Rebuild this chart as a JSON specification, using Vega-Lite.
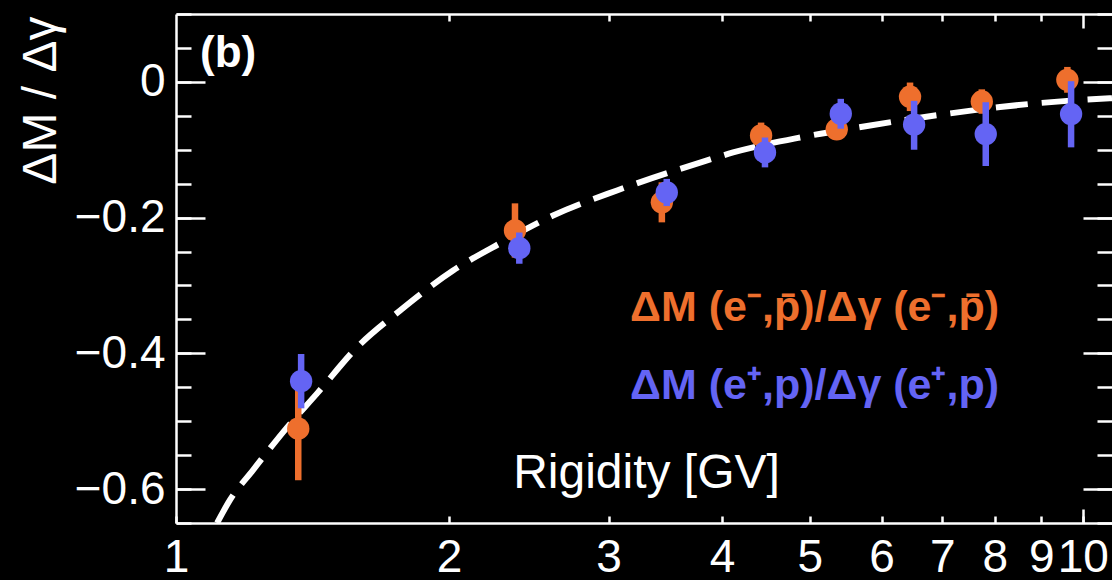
{
  "$schema": "https://vega.github.io/schema/vega-lite/v6.json",
  "width": 936,
  "height": 509,
  "autosize": {"type": "none"},
  "padding": {"left": 176, "top": 14, "right": 0, "bottom": 57},
  "background": "black",
  "config": {
    "view": {"stroke": null},
    "font": "Liberation Sans",
    "axis": {
      "domainColor": "white", "tickColor": "white", "labelColor": "white", "titleColor": "white",
      "domainWidth": 2.5, "tickWidth": 2.5, "grid": false,
      "labelFont": "Liberation Sans", "titleFont": "Liberation Sans",
      "labelFontSize": 46, "titleFontSize": 48, "titleFontWeight": "normal",
      "labelOverlap": false, "labelFlush": false, "labelBound": false
    }
  },
  "datasets": {
    "curve": [
      {"x": 1.11, "y": -0.65}, {"x": 1.147, "y": -0.616}, {"x": 1.216, "y": -0.572},
      {"x": 1.326, "y": -0.509}, {"x": 1.431, "y": -0.459}, {"x": 1.584, "y": -0.391},
      {"x": 1.766, "y": -0.337}, {"x": 2.021, "y": -0.278}, {"x": 2.276, "y": -0.238},
      {"x": 2.605, "y": -0.197}, {"x": 3.064, "y": -0.160}, {"x": 3.784, "y": -0.119},
      {"x": 4.115, "y": -0.104}, {"x": 4.878, "y": -0.082}, {"x": 5.783, "y": -0.065},
      {"x": 6.838, "y": -0.050}, {"x": 8.106, "y": -0.037}, {"x": 9.61, "y": -0.028},
      {"x": 10.77, "y": -0.024}
    ],
    "pts": [
      {"series": "neg", "x": 1.364, "y": -0.511, "lo": -0.587, "hi": -0.435},
      {"series": "neg", "x": 2.365, "y": -0.219, "lo": -0.259, "hi": -0.179},
      {"series": "neg", "x": 3.434, "y": -0.1775, "lo": -0.207, "hi": -0.148},
      {"series": "neg", "x": 4.418, "y": -0.079, "lo": -0.099, "hi": -0.060},
      {"series": "neg", "x": 5.354, "y": -0.070, "lo": -0.085, "hi": -0.055},
      {"series": "neg", "x": 6.449, "y": -0.022, "lo": -0.043, "hi": -0.001},
      {"series": "neg", "x": 7.738, "y": -0.029, "lo": -0.047, "hi": -0.011},
      {"series": "neg", "x": 9.616, "y": 0.003, "lo": -0.016, "hi": 0.022},
      {"series": "pos", "x": 1.374, "y": -0.441, "lo": -0.481, "hi": -0.401},
      {"series": "pos", "x": 2.391, "y": -0.245, "lo": -0.268, "hi": -0.222},
      {"series": "pos", "x": 3.477, "y": -0.163, "lo": -0.183, "hi": -0.143},
      {"series": "pos", "x": 4.462, "y": -0.104, "lo": -0.126, "hi": -0.082},
      {"series": "pos", "x": 5.409, "y": -0.047, "lo": -0.069, "hi": -0.025},
      {"series": "pos", "x": 6.516, "y": -0.063, "lo": -0.100, "hi": -0.028},
      {"series": "pos", "x": 7.816, "y": -0.077, "lo": -0.124, "hi": -0.030},
      {"series": "pos", "x": 9.707, "y": -0.0475, "lo": -0.0965, "hi": 0.001}
    ]
  },
  "resolve": {"axis": {"x": "independent", "y": "independent"}},
  "layer": [
    {
      "data": {"name": "curve"},
      "mark": {"type": "line", "color": "white", "strokeWidth": 6, "strokeDash": [32, 14], "interpolate": "monotone", "clip": true},
      "encoding": {
        "x": {"field": "x", "type": "quantitative",
          "scale": {"type": "log", "domain": [1, 10.77], "nice": false},
          "axis": {"orient": "bottom", "values": [1, 2, 3, 4, 5, 6, 7, 8, 9, 10], "format": "~g",
            "tickSize": -7, "labelPadding": 19,
            "title": "Rigidity [GV]", "titleX": 470, "titleY": -36, "titleAlign": "center",
            "titleBaseline": "alphabetic", "titleAngle": 0}},
        "y": {"field": "y", "type": "quantitative",
          "scale": {"domain": [-0.65, 0.1], "nice": false, "zero": false},
          "axis": {"orient": "left", "values": [0, -0.2, -0.4, -0.6], "format": ".1~f",
            "tickSize": -29, "labelPadding": 40,
            "title": "ΔM / Δγ", "titleX": -121, "titleY": 2, "titleAngle": -90,
            "titleAlign": "right", "titleBaseline": "alphabetic"}}
      }
    },
    {
      "data": {"name": "pts"},
      "transform": [{"filter": "datum.series === 'neg'"}],
      "mark": {"type": "rule", "color": "#EE6F2D", "strokeWidth": 6.5},
      "encoding": {
        "x": {"field": "x", "type": "quantitative",
          "axis": {"orient": "bottom", "values": [10], "tickSize": -14, "labels": false, "domain": false, "title": null}},
        "y": {"field": "lo", "type": "quantitative",
          "axis": {"orient": "left", "values": [-0.65, -0.6, -0.55, -0.5, -0.45, -0.4, -0.35, -0.3, -0.25, -0.2, -0.15, -0.1, -0.05, 0, 0.05, 0.1],
            "tickSize": -15, "labels": false, "domain": false, "title": null}},
        "y2": {"field": "hi"}
      }
    },
    {
      "data": {"name": "pts"},
      "transform": [{"filter": "datum.series === 'neg'"}],
      "mark": {"type": "circle", "color": "#EE6F2D", "size": 500, "opacity": 1},
      "encoding": {
        "x": {"field": "x", "type": "quantitative",
          "axis": {"orient": "top", "values": [2, 3, 4, 5, 6, 7, 8, 9], "tickSize": -7, "labels": false, "domain": true, "title": null}},
        "y": {"field": "y", "type": "quantitative",
          "axis": {"orient": "right", "values": [0, -0.2, -0.4, -0.6], "tickSize": -29, "labels": false, "domain": false, "title": null}}
      }
    },
    {
      "data": {"name": "pts"},
      "transform": [{"filter": "datum.series === 'pos'"}],
      "mark": {"type": "rule", "color": "#6464F4", "strokeWidth": 6.5},
      "encoding": {
        "x": {"field": "x", "type": "quantitative",
          "axis": {"orient": "top", "values": [10], "tickSize": -14, "labels": false, "domain": false, "title": null}},
        "y": {"field": "lo", "type": "quantitative",
          "axis": {"orient": "right", "values": [-0.65, -0.6, -0.55, -0.5, -0.45, -0.4, -0.35, -0.3, -0.25, -0.2, -0.15, -0.1, -0.05, 0, 0.05, 0.1],
            "tickSize": -15, "labels": false, "domain": false, "title": null}},
        "y2": {"field": "hi"}
      }
    },
    {
      "data": {"name": "pts"},
      "transform": [{"filter": "datum.series === 'pos'"}],
      "mark": {"type": "circle", "color": "#6464F4", "size": 500, "opacity": 1},
      "encoding": {
        "x": {"field": "x", "type": "quantitative", "axis": null},
        "y": {"field": "y", "type": "quantitative", "axis": null}
      }
    },
    {
      "data": {"values": [{"label": "(b)"}]},
      "mark": {"type": "text", "color": "white", "font": "Liberation Sans", "fontWeight": "bold", "fontSize": 44, "align": "left", "baseline": "alphabetic"},
      "encoding": {
        "text": {"field": "label"},
        "x": {"datum": 1.063, "type": "quantitative", "axis": null},
        "y": {"datum": 0.022, "type": "quantitative", "axis": null}
      }
    },
    {
      "data": {"values": [{"label": "ΔM (e⁻,p̄)/Δγ (e⁻,p̄)"}]},
      "mark": {"type": "text", "color": "#EE6F2D", "font": "Liberation Sans", "fontWeight": "bold", "fontSize": 43, "align": "left", "baseline": "alphabetic"},
      "encoding": {
        "text": {"field": "label"},
        "x": {"datum": 3.168, "type": "quantitative", "axis": null},
        "y": {"datum": -0.353, "type": "quantitative", "axis": null}
      }
    },
    {
      "data": {"values": [{"label": "ΔM (e⁺,p)/Δγ  (e⁺,p)"}]},
      "mark": {"type": "text", "color": "#6464F4", "font": "Liberation Sans", "fontWeight": "bold", "fontSize": 43, "align": "left", "baseline": "alphabetic"},
      "encoding": {
        "text": {"field": "label"},
        "x": {"datum": 3.168, "type": "quantitative", "axis": null},
        "y": {"datum": -0.468, "type": "quantitative", "axis": null}
      }
    }
  ]
}
